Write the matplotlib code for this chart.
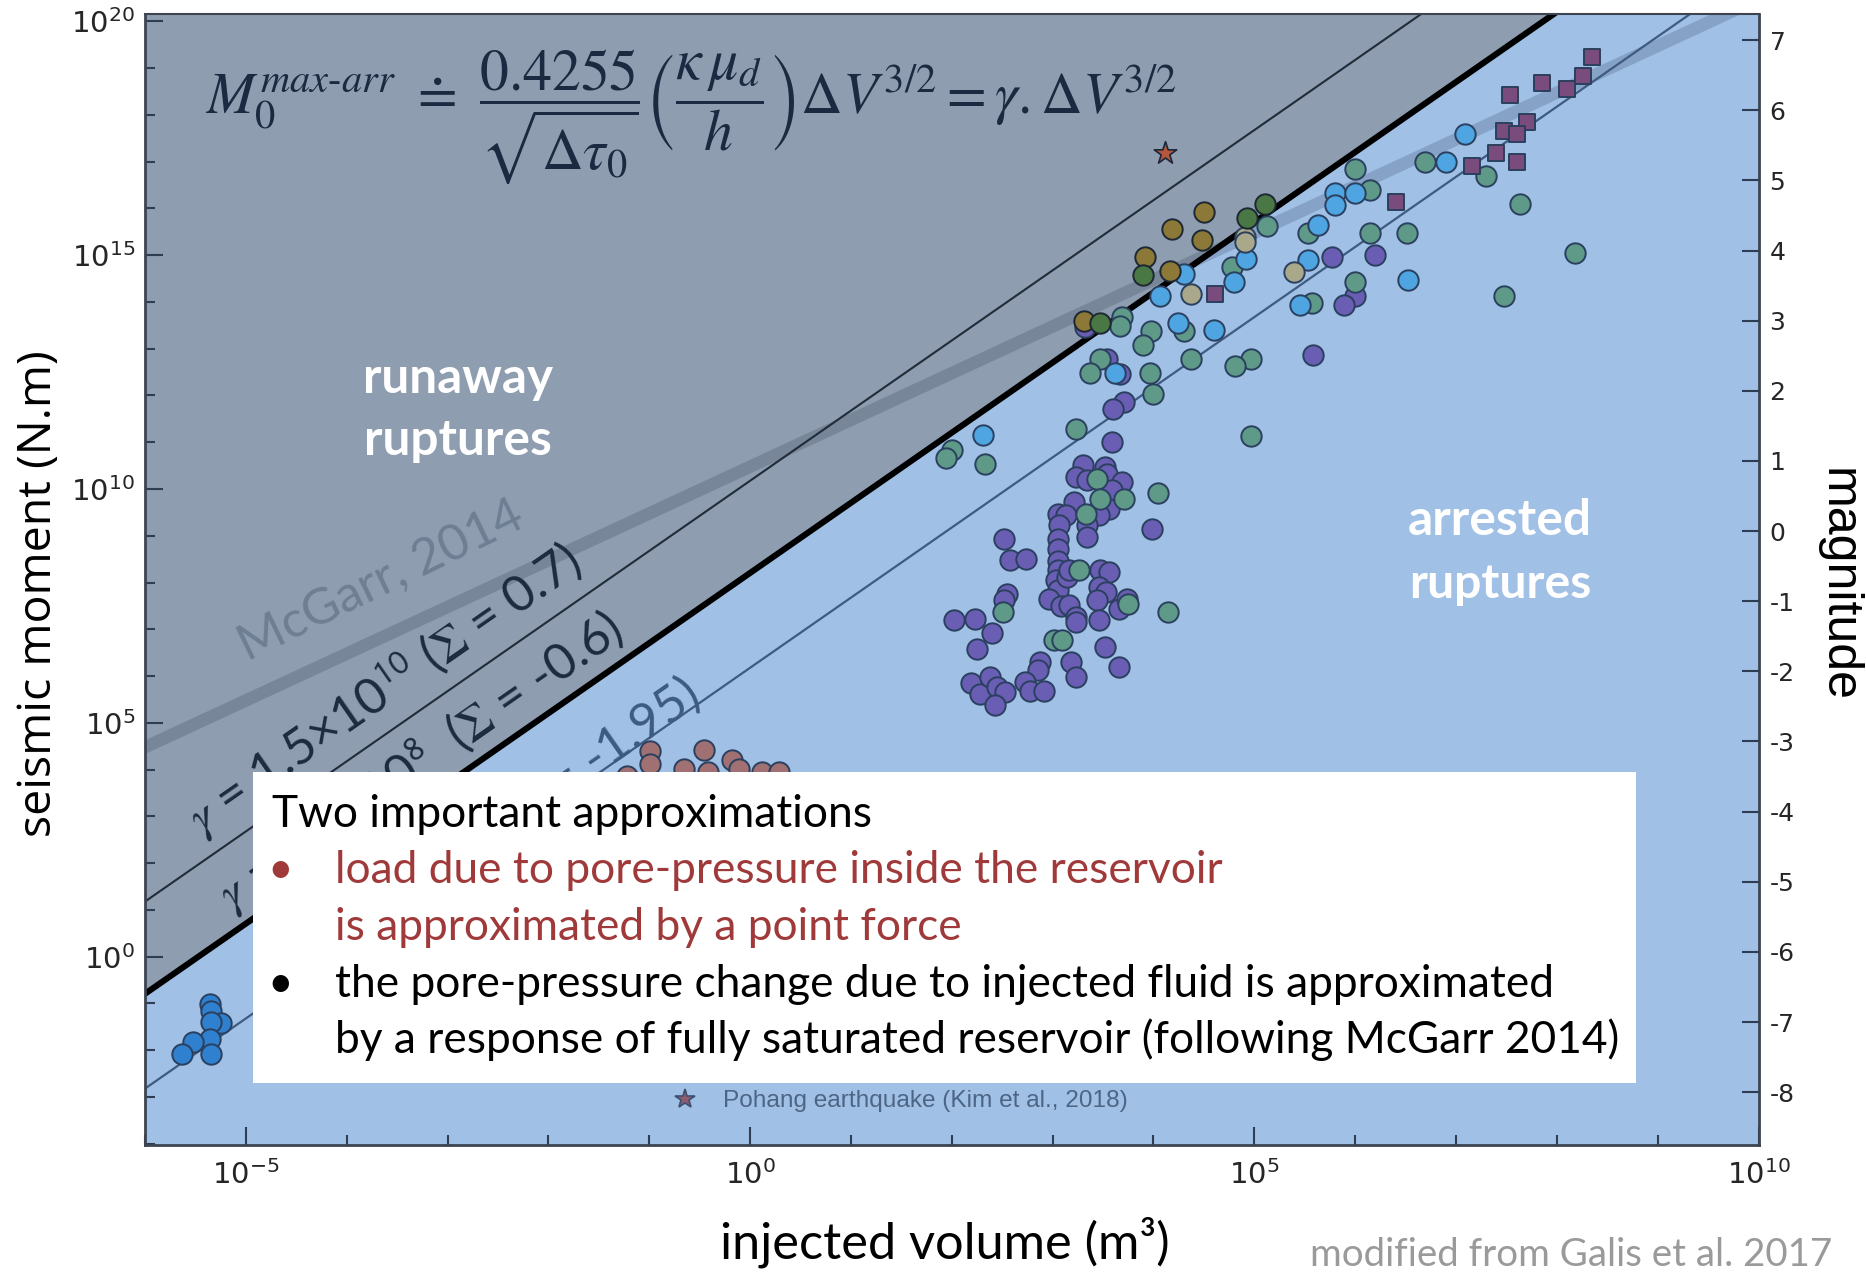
import numpy as np
import matplotlib
matplotlib.use("Agg")
import matplotlib.pyplot as plt
from matplotlib.lines import Line2D
from matplotlib.patches import Rectangle
from matplotlib.ticker import FixedLocator, FuncFormatter, NullFormatter

plt.rcParams['axes.unicode_minus'] = False
plt.rcParams['font.family'] = ['DejaVu Sans']
plt.rcParams['mathtext.fontset'] = 'dejavusans'

# ---------------- data ----------------
# log10 injected volume (m^3) / log10 seismic moment (N.m) for each group
lab_logV = [-5.36, -5.35, -5.25, -5.35, -5.36, -5.52, -5.63, -5.35]
lab_logM = [-1.02, -1.16, -1.43, -1.41, -1.77, -1.82, -2.08, -2.08]

brown_logV = [-0.99, -0.99, -0.46, -0.18, -0.66, -0.42, -0.11, -1.22, 0.12, 0.29]
brown_logM = [4.40, 4.12, 4.42, 4.21, 4.01, 3.94, 4.01, 3.87, 3.94, 3.94]

purple_logV = [5.77, 6.20, 6.00, 5.89, 5.58, 3.67, 3.54, 3.71, 3.60, 3.59, 3.30, 3.32,
               3.23, 3.34, 3.52, 3.54, 3.69, 3.59, 3.56, 3.46, 3.21, 3.05, 3.13, 3.34,
               3.34, 3.06, 3.05, 3.05, 3.05, 3.05, 3.03, 3.05, 2.96, 3.08, 3.16, 3.14,
               3.16, 3.23, 3.23, 3.47, 3.56, 3.46, 3.53, 3.44, 3.46, 3.66, 3.74, 3.99,
               2.52, 2.58, 2.74, 2.55, 2.52, 2.02, 2.23, 2.40, 2.25, 3.52, 3.66, 3.18,
               3.23, 2.88, 2.86, 2.73, 2.78, 2.91, 2.19, 2.28, 2.38, 2.45, 2.53, 2.43]
purple_logM = [14.97, 15.00, 14.13, 13.93, 12.86, 12.47, 12.77, 11.86, 11.71, 11.01, 10.51, 13.47,
               10.26, 10.19, 10.47, 10.33, 10.15, 9.97, 9.58, 9.44, 9.72, 9.47, 9.44, 9.22,
               8.97, 9.22, 8.94, 8.72, 8.47, 8.26, 8.05, 7.83, 7.65, 7.49, 7.51, 8.12,
               8.26, 7.26, 7.15, 8.26, 8.22, 7.90, 7.79, 7.62, 7.20, 7.44, 7.65, 9.15,
               8.94, 8.49, 8.51, 7.76, 7.62, 7.19, 7.21, 6.92, 6.58, 6.62, 6.20, 6.30,
               5.97, 6.30, 6.12, 5.87, 5.68, 5.68, 5.85, 5.62, 5.97, 5.76, 5.65, 5.37]

teal_logV = [6.00, 6.69, 6.15, 5.13, 5.53, 6.15, 6.51, 4.78, 6.00, 5.57, 3.69, 3.67,
             3.98, 4.30, 3.90, 3.47, 3.37, 3.97, 4.37, 4.97, 4.81, 4.00, 3.23, 2.00,
             1.94, 2.33, 4.97, 4.05, 3.44, 3.47, 3.71, 3.33, 3.26, 2.51, 3.75, 4.14,
             3.01, 3.09, 7.30, 7.63, 8.18, 7.48]
teal_logM = [16.84, 16.99, 16.40, 15.63, 15.48, 15.48, 15.48, 14.75, 14.43, 13.98, 13.68, 13.48,
             13.38, 13.38, 13.08, 12.79, 12.49, 12.49, 12.79, 12.79, 12.63, 12.03, 11.28, 10.84,
             10.67, 10.53, 11.13, 9.92, 10.22, 9.79, 9.79, 9.47, 8.27, 7.37, 7.53, 7.37,
             6.78, 6.78, 16.70, 16.09, 15.04, 14.13]

lightblue_logV = [5.80, 5.80, 6.00, 5.63, 5.53, 4.92, 4.80, 4.30, 4.07, 6.52, 5.45, 4.24,
                  4.60, 3.62, 2.31, 6.90, 7.09]
lightblue_logM = [16.33, 16.08, 16.34, 15.65, 14.90, 14.91, 14.43, 14.60, 14.13, 14.48, 13.94, 13.56,
                  13.40, 12.49, 11.15, 17.00, 17.59]

tan_logV = [4.91, 4.91, 4.37, 5.39]
tan_logM = [15.38, 15.28, 14.18, 14.65]

olive_logV = [4.50, 4.18, 4.48, 3.92, 4.16, 3.31]
olive_logM = [15.92, 15.56, 15.33, 14.96, 14.66, 13.60]

darkgreen_logV = [5.11, 4.93, 3.90, 3.47]
darkgreen_logM = [16.10, 15.80, 14.58, 13.56]

square_logV = [8.35, 8.26, 7.85, 8.10, 7.54, 7.70, 7.48, 7.61, 7.40, 7.61, 7.16, 6.41, 4.61]
square_logM = [19.23, 18.84, 18.69, 18.55, 18.43, 17.86, 17.66, 17.59, 17.19, 16.99, 16.90, 16.14, 14.18]

pohang_logV = [4.11]
pohang_logM = [17.19]

# reference lines: M0 = gamma * V^(3/2);  McGarr (2014): M0 = G * V
gamma_values = [1.5e10, 1.6e8, 1.5e6]
gamma_labels = [r'$\gamma$ = 1.5×10$^{\mathsf{10}}$ ($\Sigma$ = 0.7)',
                r'$\gamma$ = 1.6×10$^{\mathsf{8}}$  ($\Sigma$ = -0.6)',
                r'$\gamma$ = 1.5×10$^{\mathsf{6}}$ ($\Sigma$ = -1.95)']
mcgarr_G = 3.0e10

x_major = [1e-5, 1e0, 1e5, 1e10]
y_major = [1e0, 1e5, 1e10, 1e15, 1e20]
mag_ticks = list(range(-8, 8))

# ---------------- figure ----------------
W, H, DPI = 1866, 1272, 100
fig = plt.figure(figsize=(W / DPI, H / DPI), dpi=DPI)
fig.patch.set_facecolor('white')


def fxp(px):
    return px / W


def fyp(py):
    return 1 - py / H


ax = fig.add_axes([fxp(145), fyp(1145), (1758.5 - 145) / W, (1145 - 13.5) / H])
ax.set_xscale('log')
ax.set_yscale('log')
ax.set_xlim(1e-6, 1e10)
ax.set_ylim(10 ** -4.03, 10 ** 20.17)
ax.set_facecolor('#a0c0e6')

V = np.logspace(-7, 11, 2)
ax.fill_between(V, gamma_values[1] * V ** 1.5, 1e40, color='#8f9db0', lw=0, zorder=0.5)
ax.plot(V, mcgarr_G * V, color='#1e2d46', alpha=0.2, lw=9, solid_capstyle='butt', zorder=1)
ax.plot(V, gamma_values[0] * V ** 1.5, color='#222c38', lw=1.5, zorder=1.5)
ax.plot(V, gamma_values[2] * V ** 1.5, color='#3f5b7f', lw=1.6, zorder=1.5)
ax.plot(V, gamma_values[1] * V ** 1.5, color='black', lw=4.4, zorder=2)

EDGE = '#2a405e'
SC = 215
groups = [
    (purple_logV, purple_logM, '#6a5eb4', 'o', SC, EDGE, 3.0),
    (teal_logV, teal_logM, '#5f9a88', 'o', SC, EDGE, 3.1),
    (lightblue_logV, lightblue_logM, '#4fa4e2', 'o', SC, EDGE, 3.2),
    (tan_logV, tan_logM, '#aaa88a', 'o', SC, EDGE, 3.3),
    (olive_logV, olive_logM, '#8c7837', 'o', SC, '#1d2833', 3.4),
    (darkgreen_logV, darkgreen_logM, '#4a7844', 'o', SC, '#1d2833', 3.5),
    (brown_logV, brown_logM, '#a07073', 'o', SC, EDGE, 3.0),
    (lab_logV, lab_logM, '#3080d0', 'o', SC, EDGE, 3.0),
    (square_logV, square_logM, '#7a4b7d', 's', 135, EDGE, 3.6),
]
for lv, lm, col, mk, s, ec, z in groups:
    ax.scatter(10 ** np.array(lv), 10 ** np.array(lm), s=s, c=col, marker=mk,
               edgecolors=ec, linewidths=1.4, zorder=z)
ax.scatter(10 ** np.array(pohang_logV), 10 ** np.array(pohang_logM), s=290, marker='*',
           c='#b5573f', edgecolors='#1c2838', linewidths=1.2, zorder=3.7)

# ticks
ax.xaxis.set_major_locator(FixedLocator(x_major))
ax.xaxis.set_minor_locator(FixedLocator(10.0 ** np.arange(-6, 11)))
ax.yaxis.set_major_locator(FixedLocator(y_major))
ax.yaxis.set_minor_locator(FixedLocator(10.0 ** np.arange(-4, 21)))
fmt = FuncFormatter(lambda v, p: r'$\mathregular{10^{%d}}$' % int(round(np.log10(v))))
ax.xaxis.set_major_formatter(fmt)
ax.yaxis.set_major_formatter(fmt)
ax.xaxis.set_minor_formatter(NullFormatter())
ax.yaxis.set_minor_formatter(NullFormatter())
TCOL = '#2f3d52'
ax.tick_params(which='major', direction='in', length=13, width=1.5, color=TCOL,
               labelsize=21, labelcolor='#262626')
ax.tick_params(which='minor', direction='in', length=7, width=1.5, color=TCOL)
ax.tick_params(axis='x', which='major', pad=11)
ax.tick_params(axis='y', which='major', pad=7)
for sp in ax.spines.values():
    sp.set_color('#3d4450')
    sp.set_linewidth(2)
ax.spines['top'].set_linewidth(1.5)

ax2 = ax.twinx()
lo, hi = np.log10(ax.get_ylim())
ax2.set_ylim((lo - 9.1) / 1.5, (hi - 9.1) / 1.5)
ax2.set_yticks(mag_ticks)
ax2.tick_params(direction='in', length=12, width=1.5, color=TCOL, labelsize=18,
                labelcolor='#262626', pad=8)
for sp in ax2.spines.values():
    sp.set_visible(False)

# line labels
p0 = ax.transData.transform((1.0, 1.0))
p15 = ax.transData.transform((100.0, 1000.0))
p1 = ax.transData.transform((100.0, 100.0))
ang15 = np.degrees(np.arctan2(p15[1] - p0[1], p15[0] - p0[0]))
ang1 = np.degrees(np.arctan2(p1[1] - p0[1], p1[0] - p0[0]))

fig.canvas.draw()
R = fig.canvas.get_renderer()


def fit(t, target):
    rot = t.get_rotation()
    t.set_rotation(0)
    w = t.get_window_extent(R).width
    t.set_fontsize(t.get_fontsize() * target / w)
    t.set_rotation(rot)
    return t.get_fontsize()


t_mc = fig.text(fxp(381), fyp(580), 'McGarr, 2014', family='Lato', fontsize=30,
                color='#6e7e93', ha='center', va='center', rotation_mode='anchor')
fit(t_mc, 311)
t_mc.set_rotation(ang1 + 1)

label_pos = [(385, 690), (421, 762), (490, 832)]
label_cols = ['#1d2b3e', '#1d2b3e', '#3d5a80']
lts = []
for txt, (px, py), col in zip(gamma_labels, label_pos, label_cols):
    t = fig.text(fxp(px), fyp(py), txt, family='Lato', math_fontfamily='stix',
                 fontsize=30, color=col, ha='center', va='center', rotation_mode='anchor')
    lts.append(t)
fs = fit(lts[0], 467)
for t in lts:
    t.set_fontsize(fs)
    t.set_rotation(ang15)

formula = fig.text(fxp(691), fyp(117),
                   r'$M_0^{max\text{-}arr}\ \doteq\ \dfrac{0.4255}{\sqrt{\Delta\tau_0}}'
                   r'\left(\dfrac{\kappa\,\mu_d}{h}\right)\Delta V^{3/2} = \gamma.\Delta V^{3/2}$',
                   math_fontfamily='stix', fontsize=34, color='#1b2a40', ha='center', va='center')
fit(formula, 972)

for txt, cx, base, tw in [('runaway', 458, 393, 190), ('ruptures', 458, 455, 188),
                          ('arrested', 1500, 535.5, 184), ('ruptures', 1500, 598, 182)]:
    t = fig.text(fxp(cx), fyp(base), txt, family='Lato', weight='bold', color='white',
                 fontsize=34, ha='center', va='baseline')
    fit(t, tw)

# text box
fig.add_artist(Rectangle((fxp(252.5), fyp(1083)), (1636 - 252.5) / W, (1083 - 771.5) / H,
                         transform=fig.transFigure, facecolor='white', edgecolor='none',
                         zorder=10))
RED = '#a03a3a'
box_lines = [
    (272.5, 826.7, 'Two important approximations', 'black'),
    (335, 883.3, 'load due to pore-pressure inside the reservoir', RED),
    (335, 940, 'is approximated by a point force', RED),
    (335, 996.7, 'the pore-pressure change due to injected fluid is approximated', 'black'),
    (335, 1053.3, 'by a response of fully saturated reservoir (following McGarr 2014)', 'black'),
]
bts = []
for x0, base, txt, col in box_lines:
    t = fig.text(fxp(x0), fyp(base), txt, family='Lato', fontsize=30, color=col,
                 ha='left', va='baseline', zorder=11)
    bts.append(t)
fsb = fit(bts[4], 1282)
for t in bts:
    t.set_fontsize(fsb)
for base, col in [(883.3, RED), (996.7, 'black')]:
    fig.text(fxp(280), fyp(base), '•', family='Lato', fontsize=fsb, color=col,
             ha='center', va='baseline', zorder=11)

# Pohang legend
h = Line2D([], [], ls='none', marker='*', markersize=15, markerfacecolor='#8e5a6e',
           markeredgecolor='#3a5070', markeredgewidth=1.2,
           label='Pohang earthquake (Kim et al., 2018)')
leg = ax.legend(handles=[h], loc='center left', frameon=False,
                bbox_to_anchor=((674 - 145) / 1613.5, 1 - (1101 - 13.5) / 1131.5),
                handlelength=1.0, handletextpad=1.2, borderpad=0, borderaxespad=0,
                prop={'family': 'Liberation Sans', 'size': 16})
leg.get_texts()[0].set_color('#4d6585')
fit(leg.get_texts()[0], 406)

# axis labels
xl = fig.text(fxp(945), fyp(1259), 'injected volume (m³)', family='Lato', fontsize=30,
              color='black', ha='center', va='baseline')
fit(xl, 450)
yl = fig.text(fxp(39), fyp(594), 'seismic moment (N.m)', family='Open Sans', fontsize=30,
              color='black', ha='center', va='center', rotation=90)
fit(yl, 486)
ml = fig.text(fxp(1838), fyp(585), 'magnitude', family='Liberation Sans', fontsize=24,
              color='black', ha='center', va='center', rotation=-90)
fit(ml, 234)
src = fig.text(fxp(1310), fyp(1266), 'modified from Galis et al. 2017', family='Lato',
               fontsize=28, color='#9a9a9a', ha='left', va='baseline')
fit(src, 523)

fig.savefig('out.png', dpi=DPI, facecolor='white')
